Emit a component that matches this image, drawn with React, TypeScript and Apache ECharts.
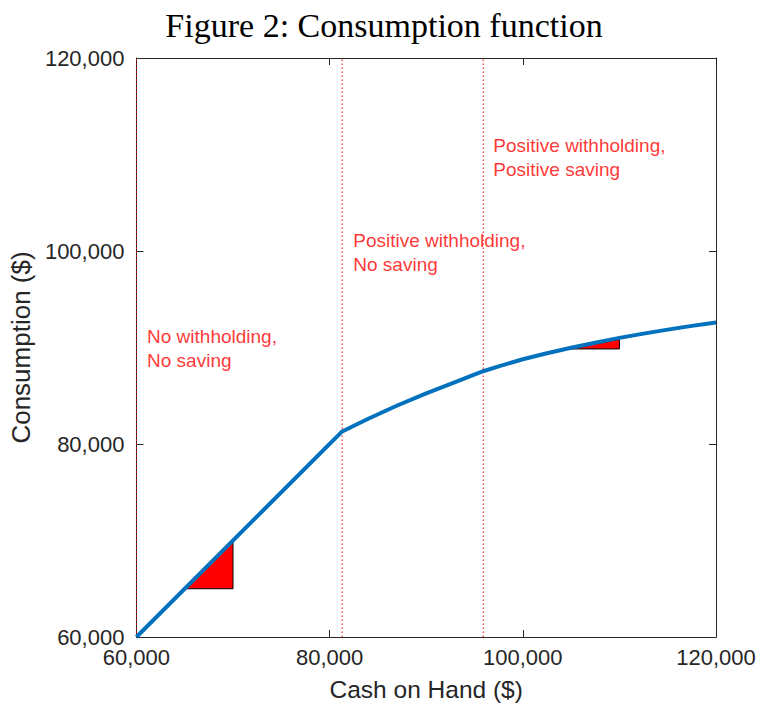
import React, { useEffect, useRef } from "react";
import * as echarts from "echarts";

// Consumption as a function of cash on hand
const cashOnHand = [
  60000, 81300, 84000, 87000, 90000, 93000, 95900, 97500, 100000, 102500, 105000,
  107500, 110000, 112500, 115000, 117500, 120000,
];
const consumption = [
  60000, 81300, 82620, 83990, 85250, 86420, 87540, 88050, 88780, 89410, 89970,
  90500, 91000, 91440, 91850, 92240, 92600,
];

// Regime boundaries (vertical dotted lines)
const thresholds = [60000, 81300, 95900];

// Slope triangles (marginal propensity to consume)
const slopeTriangles = [
  [[65000, 65000], [70000, 65000], [70000, 70000]],
  [[105000, 89850], [110000, 89850], [110000, 90880]],
];

// Regime labels
const regimeLabels = [
  { text: "No withholding,\nNo saving", at: [61100, 89850] },
  { text: "Positive withholding,\nNo saving", at: [82450, 99850] },
  { text: "Positive withholding,\nPositive saving", at: [96950, 109700] },
];

const axisMin = 60000;
const axisMax = 120000;
const axisStep = 20000;

const AXIS_COLOR = "#262626";
const SANS = "Liberation Sans";

const fmt = (v: number) => v.toLocaleString("en-US");

export default function App() {
  const ref = useRef<HTMLDivElement>(null);

  useEffect(() => {
    if (!ref.current) return;
    const chart = echarts.init(ref.current, null, { renderer: "svg" });

    const baseAxis = {
      type: "value" as const,
      min: axisMin,
      max: axisMax,
      interval: axisStep,
      splitLine: { show: false },
      axisLine: { show: true, onZero: false, lineStyle: { color: AXIS_COLOR, width: 1 } },
      axisTick: { show: true, inside: true, length: 7, lineStyle: { color: AXIS_COLOR, width: 1 } },
    };

    const thresholdSeries = thresholds.map((x) => ({
      type: "line",
      xAxisIndex: 0,
      yAxisIndex: 0,
      z: 2,
      silent: true,
      showSymbol: false,
      symbol: "none",
      color: "#ff0000",
      data: [
        [x, axisMin],
        [x, axisMax],
      ],
      lineStyle: { color: "#ff0000", width: 1, type: [1.5, 2.5] },
    }));

    chart.setOption({
      animation: false,
      backgroundColor: "#ffffff",
      textStyle: { fontFamily: SANS },
      grid: { left: 136, right: 45, top: 58, bottom: 74 },
      graphic: [
        {
          type: "text",
          x: 384,
          y: 25,
          style: {
            text: "Figure 2: Consumption function",
            font: '34px "Liberation Serif"',
            fill: "#000000",
            textAlign: "center",
            textVerticalAlign: "middle",
          },
        },
      ],
      xAxis: [
        {
          ...baseAxis,
          position: "bottom",
          axisLabel: { fontSize: 22, color: AXIS_COLOR, margin: 9, formatter: fmt, fontFamily: SANS },
          name: "Cash on Hand ($)",
          nameLocation: "middle",
          nameGap: 40,
          nameTextStyle: { fontSize: 24.5, color: AXIS_COLOR, fontFamily: SANS },
        },
        { ...baseAxis, position: "top", axisLabel: { show: false } },
      ],
      yAxis: [
        {
          ...baseAxis,
          position: "left",
          axisLabel: { fontSize: 22, color: AXIS_COLOR, margin: 12, formatter: fmt, fontFamily: SANS },
          name: "Consumption ($)",
          nameLocation: "middle",
          nameGap: 96,
          nameTextStyle: { fontSize: 26, color: AXIS_COLOR, fontFamily: SANS },
        },
        { ...baseAxis, position: "right", axisLabel: { show: false } },
      ],
      series: [
        ...thresholdSeries,
        {
          type: "custom",
          xAxisIndex: 0,
          yAxisIndex: 0,
          z: 2,
          data: slopeTriangles.map((t, i) => [t[1][0], t[1][1], i]),
          renderItem: (_params: any, api: any) => {
            const tri = slopeTriangles[api.value(2)];
            return {
              type: "polygon",
              shape: { points: tri.map((p) => api.coord(p)) },
              style: { fill: "#ff0000", stroke: "#000000", lineWidth: 1 },
            };
          },
        },
        {
          type: "line",
          xAxisIndex: 0,
          yAxisIndex: 0,
          z: 3,
          showSymbol: false,
          symbol: "none",
          data: cashOnHand.map((x, i) => [x, consumption[i]]),
          lineStyle: { color: "#0072BD", width: 4, join: "round" },
        },
        {
          type: "scatter",
          xAxisIndex: 0,
          yAxisIndex: 0,
          z: 4,
          symbolSize: 0,
          silent: true,
          data: regimeLabels.map((l) => ({ value: l.at, name: l.text })),
          label: {
            show: true,
            position: "right",
            distance: 0,
            formatter: "{b}",
            color: "#ff0000",
            fontSize: 19,
            lineHeight: 24,
            fontFamily: SANS,
            align: "left",
          },
        },
      ],
    });

    return () => chart.dispose();
  }, []);

  return (
    <div
      ref={ref}
      style={{ position: "fixed", left: 0, top: 0, width: 761, height: 711, background: "#fff" }}
    />
  );
}
